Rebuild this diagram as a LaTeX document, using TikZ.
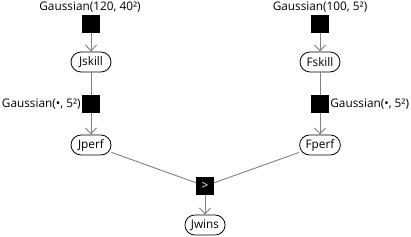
\documentclass[tikz,border=0pt]{standalone}
\usepackage{fontspec}
\setmainfont{Open Sans}
\usetikzlibrary{arrows.meta}
\begin{document}
\begin{tikzpicture}[
		x=1pt, y=-1pt,
		font=\fontsize{11.8}{13}\selectfont,
		var/.style={draw, rounded corners=10pt, minimum height=20pt,
			minimum width=40pt, inner xsep=6pt, inner ysep=0pt, line width=0.8pt},
		fac/.style={fill=black, text=white, minimum size=18pt, inner sep=0pt},
		lbl/.style={inner sep=1pt},
		link/.style={draw=gray, line width=0.9pt},
		arr/.style={link, -{Straight Barb[length=6pt, width=11pt]}},
	]
		\useasboundingbox (0,0) rectangle (411,237);

		% Faktoren und Variablen mit absoluten Koordinaten
		\node[fac] (jprior) at (91,24) {};
		\node[fac] (fprior) at (320,24) {};
		\node[var] (jskill) at (91,62) {Jskill};
		\node[var] (fskill) at (320,62) {Fskill};
		\node[fac] (jnoise) at (91,104) {};
		\node[fac] (fnoise) at (320,104) {};
		\node[var] (jperf) at (91,145) {Jperf};
		\node[var] (fperf) at (320,145) {Fperf};
		\node[fac] (gt) at (205,186) {>};
		\node[var] (jwins) at (205,225) {Jwins};

		% Beschriftungen der Faktoren
		\node[lbl] (jprior-l) at (90,7) {Gaussian(120, 40²)};
		\node[lbl] (fprior-l) at (320,7) {Gaussian(100, 5²)};
		\node[lbl, anchor=east] (jnoise-l) at (jnoise.west) {Gaussian(•, 5²)};
		\node[lbl, anchor=west] (fnoise-l) at (fnoise.east) {Gaussian(•, 5²)};

		% Kanten
		\draw[arr] (jprior) -- (jskill);
		\draw[arr] (fprior) -- (fskill);
		\draw[link] (jskill) -- (jnoise);
		\draw[link] (fskill) -- (fnoise);
		\draw[arr] (jnoise) -- (jperf);
		\draw[arr] (fnoise) -- (fperf);
		\draw[link] (jperf) -- (gt);
		\draw[link] (fperf) -- (gt);
		\draw[arr] (gt) -- (jwins);
	\end{tikzpicture}
\end{document}
